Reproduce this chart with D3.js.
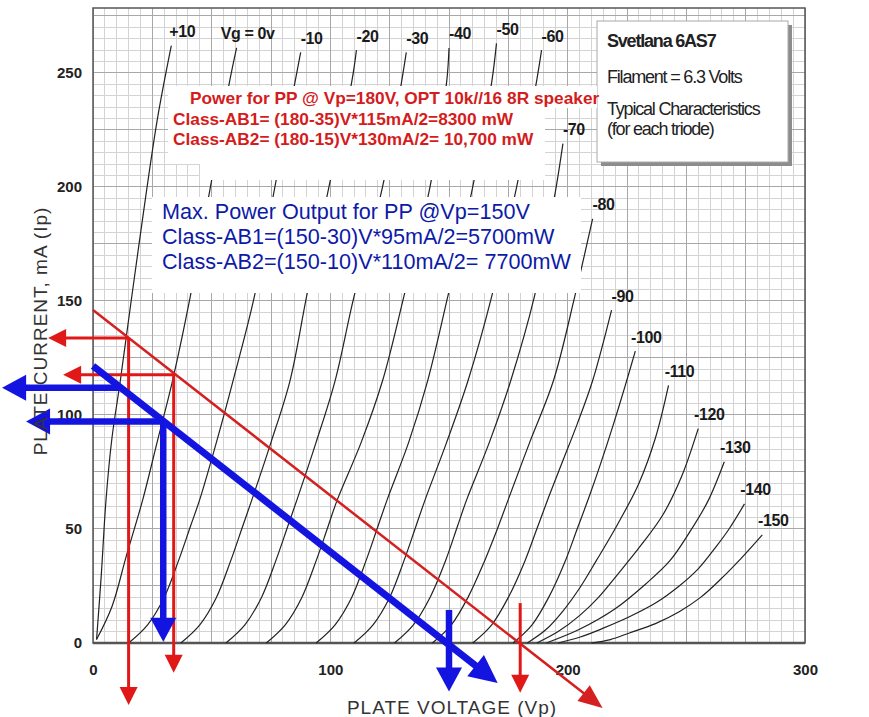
<!DOCTYPE html>
<html>
<head>
<meta charset="utf-8">
<script src="https://cdnjs.cloudflare.com/ajax/libs/d3/7.8.5/d3.min.js"></script>
<style>
  body { margin: 0; background: #fff; }
  text { font-family: "Liberation Sans", Arial, sans-serif; }
</style>
</head>
<body>
<div id="chart"></div>
<script>

// grid voltage of each plate curve (label text)
var curveLabels = ["+10", "Vg = 0v", "-10", "-20", "-30", "-40", "-50", "-60",
                   "-70", "-80", "-90", "-100", "-110", "-120", "-130", "-140", "-150"];

// plate curves, [plate volts, plate mA]
var curveP10  = [[1.5,1.5],[3.5,30],[5.5,63],[8,90],[11.5,115],[19,172],[27,229],[33,262]];
var curve0    = [[1.5,1.5],[8,16],[14,38],[21,63],[27,88],[33.5,115],[41,152],[50,203],[57.5,246],[60.5,261]];
var curveM10  = [[15,0],[23,8],[30,20],[36,36],[41,51],[45,63],[52,88],[59,115],[68,152],[77,202],[84,240],[87.5,259]];
var curveM20  = [[37,0],[45,8],[52,20],[58,36],[63,51],[67,63],[75,88],[83,115],[90,152],[100,203],[109,246],[111,260]];
var curveM30  = [[56,0],[64,8],[71,20],[77,36],[82,51],[86,63],[94,88],[102,115],[110,152],[122,200],[130,246],[132,259]];
var curveM40  = [[73,0],[81,8],[88,20],[94,36],[99,51],[103,63],[113,88],[122,115],[131,152],[142,200],[149,246],[150,261]];
var curveM50  = [[94,0],[102,8],[109,20],[115,36],[120,51],[124,63],[133,88],[141,115],[149.5,152],[160,200],[168,246],[170,263]];
var curveM60  = [[110,0],[118,8],[125,20],[131,36],[136,51],[140,63],[149,88],[158,115],[168,152],[178.5,200],[187,247],[189,260]];
var curveM70  = [[127,0],[135,8],[142,20],[148.5,36],[153.5,51],[157.5,63],[167,88],[176,115],[186,152],[194.5,196],[198,219]];
var curveM80  = [[143,0],[151,8],[158,20],[165,36],[170,49],[175,63],[184,88],[194,115],[203,152],[210.5,186]];
var curveM90  = [[160,0],[168,8],[175,20],[182,36],[187,50],[192,64],[198,80],[204,96],[210.5,115],[218.5,146]];
var curveM100 = [[177,0],[185,8],[192,20],[199,36],[204,50],[209,64],[214,79],[219,95],[224,112],[228.5,128]];
var curveM110 = [[183,0],[191,6],[198,14],[205,24],[212,36],[221,52],[230,70],[237,90],[242.5,113]];
var curveM120 = [[187,0],[196,5],[205,12],[213,20],[221,30],[231,43],[240,56],[248,73],[255,94]];
var curveM130 = [[191,0],[205,6],[220,15],[233,26],[243,36],[251,48],[259,62],[266,79.5]];
var curveM140 = [[196,0],[205,2.5],[215,6.5],[226,11.5],[237,17.5],[247,25],[255,32.5],[262,41.5],[268,50],[274.5,61]];
var curveM150 = [[210,0],[218,1.5],[226,4.4],[237,8.5],[247,13.7],[256,20],[264,27.5],[273,37],[282,47.4]];

var curves = [curveP10, curve0, curveM10, curveM20, curveM30, curveM40, curveM50, curveM60, curveM70,
              curveM80, curveM90, curveM100, curveM110, curveM120, curveM130, curveM140, curveM150];

// axis ticks
var xTicks = [0, 100, 200, 300];
var yTicks = [0, 50, 100, 150, 200, 250];

// load lines and read-off arrows, [volts, mA] from -> to (arrow tip)
var redLoadLine  = [[0,146],[214.7,-28.5]];
var redArrows    = [[[15,133.8],[-18.9,133.8]], [[15,133.8],[15,-27.2]],
                    [[34,117.6],[-12.6,117.6]], [[34,117.6],[34,-13]],
                    [[180,17.5],[180,-21.8]]];
var blueLoadLine = [[0,121.5],[170.5,-17.5]];
var blueArrows   = [[[11.7,112],[-38.3,112]], [[29.6,97.2],[-28.2,97.2]],
                    [[29.6,97.2],[29.6,0.5]], [[150,14.5],[150,-21.3]]];

// notes
var redNote  = ["Power for PP @ Vp=180V, OPT 10k//16 8R speaker",
                "Class-AB1= (180-35)V*115mA/2=8300 mW",
                "Class-AB2= (180-15)V*130mA/2= 10,700 mW"];
var blueNote = ["Max. Power Output for PP @Vp=150V",
                "Class-AB1=(150-30)V*95mA/2=5700mW",
                "Class-AB2=(150-10)V*110mA/2= 7700mW"];
var infoNote = ["Svetlana 6AS7", "Filament = 6.3 Volts", "Typical Characteristics", "(for each triode)"];

// set the dimensions and margins of the graph
var margin = {top: 8, right: 64, bottom: 74, left: 93},
    width = 869 - margin.left - margin.right,
    height = 717 - margin.top - margin.bottom;

var root = d3.select("#chart")
  .append("svg")
    .attr("width", 869)
    .attr("height", 717);

var svg = root.append("g")
    .attr("transform", "translate(" + margin.left + "," + margin.top + ")");

var x = d3.scaleLinear().domain([0, 300]).range([0, width]);
var y = d3.scaleLinear().domain([0, 278.5]).range([height, 0]);

// graph paper: minor every 5, major every 25
var vLines = d3.range(0, 301, 5), hLines = d3.range(0, 279, 5);
var grid = svg.append("g").attr("shape-rendering", "crispEdges");
grid.selectAll(".vmin").data(vLines.filter(d => d % 25)).join("line")
    .attr("x1", d => x(d)).attr("x2", d => x(d)).attr("y1", 0).attr("y2", height)
    .attr("stroke", "#d3d3d3");
grid.selectAll(".hmin").data(hLines.filter(d => d % 25)).join("line")
    .attr("y1", d => y(d)).attr("y2", d => y(d)).attr("x1", 0).attr("x2", width)
    .attr("stroke", "#d3d3d3");
grid.selectAll(".vmaj").data(vLines.filter(d => d % 25 === 0)).join("line")
    .attr("x1", d => x(d)).attr("x2", d => x(d)).attr("y1", 0).attr("y2", height)
    .attr("stroke", "#a8a8a8");
grid.selectAll(".hmaj").data(hLines.filter(d => d % 25 === 0)).join("line")
    .attr("y1", d => y(d)).attr("y2", d => y(d)).attr("x1", 0).attr("x2", width)
    .attr("stroke", "#a8a8a8");

// frame
svg.append("rect")
    .attr("width", width).attr("height", height)
    .attr("fill", "none").attr("stroke", "#555").attr("stroke-width", 1.5);
svg.append("line")
    .attr("x1", 0).attr("x2", width).attr("y1", height).attr("y2", height)
    .attr("stroke", "#555").attr("stroke-width", 2.5);

// plate curves
var line = d3.line()
    .x(d => x(d[0]))
    .y(d => y(d[1]))
    .curve(d3.curveCatmullRom.alpha(0.5));

svg.append("g").selectAll("path")
  .data(curves)
  .join("path")
    .attr("d", line)
    .attr("fill", "none")
    .attr("stroke", "#222")
    .attr("stroke-width", 1.2);

// curve labels sit just above the top end of each curve
svg.append("g").selectAll("text")
  .data(curves)
  .join("text")
    .attr("x", d => x(d[d.length - 1][0]) + 11)
    .attr("y", d => y(d[d.length - 1][1]) - 14)
    .attr("text-anchor", "middle")
    .attr("dominant-baseline", "central")
    .attr("font-size", 16)
    .attr("font-weight", "bold")
    .attr("letter-spacing", -0.4)
    .attr("fill", "#1a1a1a")
    .text((d, i) => curveLabels[i]);

// info box
root.append("rect")
    .attr("x", 601).attr("y", 25).attr("width", 191).attr("height", 141)
    .attr("fill", "#8c8c8c");
root.append("rect")
    .attr("x", 597).attr("y", 21).attr("width", 191).attr("height", 141)
    .attr("fill", "#fff").attr("stroke", "#aaa");
root.append("g").selectAll("text")
  .data(infoNote)
  .join("text")
    .attr("x", 607)
    .attr("y", (d, i) => [47, 83, 115, 135][i])
    .attr("font-size", 18)
    .attr("font-weight", (d, i) => i === 0 ? "bold" : "normal")
    .attr("letter-spacing", -1.2)
    .attr("fill", "#222")
    .text(d => d);

// white patches behind the notes
var patches = [[168, 86, 377, 78], [200, 163, 345, 17], [545, 86, 52, 22], [152, 197, 429, 96]];
root.append("g").selectAll("rect")
  .data(patches)
  .join("rect")
    .attr("x", d => d[0]).attr("y", d => d[1])
    .attr("width", d => d[2]).attr("height", d => d[3])
    .attr("fill", "#fff");

// red note
root.append("g").selectAll("text")
  .data(redNote)
  .join("text")
    .attr("x", (d, i) => i === 0 ? 190 : 173)
    .attr("y", (d, i) => 104 + i * 20.5)
    .attr("font-size", 17.3)
    .attr("font-weight", "bold")
    .attr("fill", "#d41c1c")
    .text(d => d);

// blue note
root.append("g").selectAll("text")
  .data(blueNote)
  .join("text")
    .attr("x", 162)
    .attr("y", (d, i) => 219 + i * 25)
    .attr("font-size", 21.6)
    .attr("fill", "#0d1aa8")
    .text(d => d);

// axes
svg.append("g")
    .attr("transform", "translate(0," + height + ")")
    .call(d3.axisBottom(x).tickValues(xTicks).tickSize(0).tickPadding(21))
    .call(g => g.select(".domain").remove())
    .selectAll("text")
      .attr("font-size", 15).attr("font-weight", "bold").attr("fill", "#222")
      .attr("font-family", "Liberation Sans, Arial, sans-serif");

svg.append("g")
    .call(d3.axisLeft(y).tickValues(yTicks).tickSize(0).tickPadding(11))
    .call(g => g.select(".domain").remove())
    .selectAll("text")
      .attr("font-size", 15).attr("font-weight", "bold").attr("fill", "#222")
      .attr("font-family", "Liberation Sans, Arial, sans-serif");

root.append("text")
    .attr("x", 452).attr("y", 714)
    .attr("text-anchor", "middle")
    .attr("font-size", 19).attr("letter-spacing", 1)
    .attr("fill", "#333")
    .text("PLATE VOLTAGE (Vp)");

root.append("text")
    .attr("transform", "translate(47,331) rotate(-90)")
    .attr("text-anchor", "middle")
    .attr("font-size", 19).attr("letter-spacing", 1)
    .attr("fill", "#333")
    .text("PLATE CURRENT, mA (Ip)");

// arrows: a shaft plus a filled head at the tip
function arrow(g, d, color, w, headLen, headW) {
  var x0 = x(d[0][0]), y0 = y(d[0][1]), x1 = x(d[1][0]), y1 = y(d[1][1]);
  var len = Math.hypot(x1 - x0, y1 - y0), ux = (x1 - x0) / len, uy = (y1 - y0) / len;
  var bx = x1 - ux * headLen, by = y1 - uy * headLen;
  g.append("line")
      .attr("x1", x0).attr("y1", y0).attr("x2", bx + ux).attr("y2", by + uy)
      .attr("stroke", color).attr("stroke-width", w);
  g.append("path")
      .attr("d", "M" + x1 + "," + y1 +
                 "L" + (bx - uy * headW / 2) + "," + (by + ux * headW / 2) +
                 "L" + (bx + uy * headW / 2) + "," + (by - ux * headW / 2) + "Z")
      .attr("fill", color);
}

var marks = svg.append("g");
arrow(marks, redLoadLine, "#d42020", 2.5, 24, 20);
redArrows.forEach(d => arrow(marks, d, "#e01818", 3, 18, 18));
arrow(marks, blueLoadLine, "#1414e0", 7, 28, 27);
blueArrows.forEach(d => arrow(marks, d, "#1414e0", 6.5, 24, 26));

</script>
</body>
</html>
